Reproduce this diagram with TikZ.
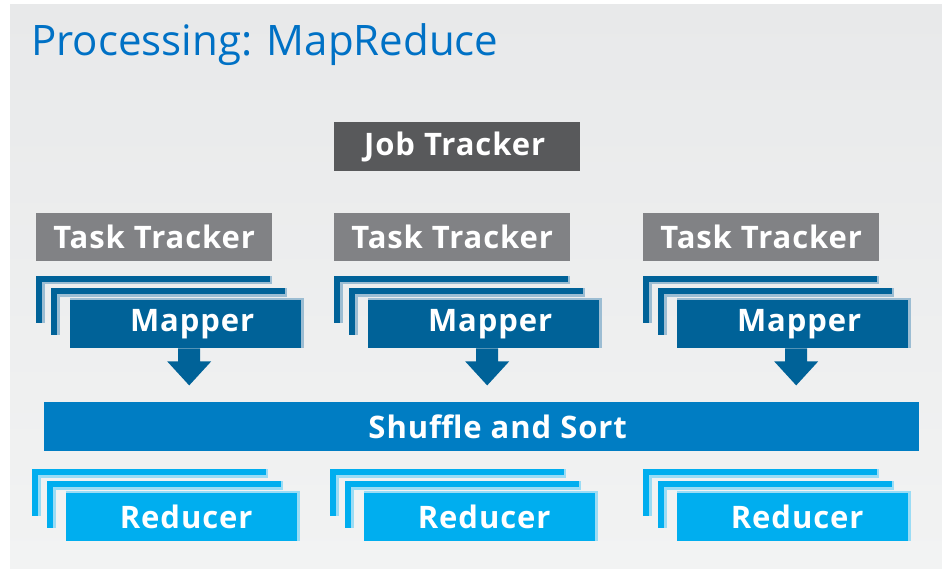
\documentclass[tikz,border=0pt]{standalone}
\usepackage{fontspec}
\setmainfont{Open Sans}
\definecolor{panelTop}{HTML}{E8E9EA}
\definecolor{panelBot}{HTML}{F2F3F3}
\definecolor{titleBlue}{HTML}{0071C5}
\definecolor{jobGray}{HTML}{58595B}
\definecolor{taskGray}{HTML}{818285}
\definecolor{mapBlue}{HTML}{006298}
\definecolor{mapLight}{HTML}{9CBDD3}
\definecolor{shufBlue}{HTML}{007DC3}
\definecolor{redBlue}{HTML}{00AEEF}
\definecolor{redLight}{HTML}{9ADCF5}

% an L-shaped edge of a card lying behind another one
\newcommand{\cardedge}[4]{%
  \fill[#4] (#1+6,#2+6) rectangle ++(229,2.5);
  \fill[#4] (#1+6,#2+6) rectangle ++(2.5,41);
  \fill[#4] (#1+234,#2) rectangle ++(2,8.5);
  \fill[#3] (#1,#2) rectangle ++(234,6);
  \fill[#3] (#1,#2) rectangle ++(6,47);
}

\tikzset{
  box/.style={rectangle, inner sep=0pt, anchor=north west, text=white,
    minimum width=235, minimum height=48,
    font=\fontsize{31}{31}\selectfont\bfseries\addfontfeature{LetterSpace=3}},
  jobbox/.style={box, fill=jobGray, minimum width=246, minimum height=49},
  taskbox/.style={box, fill=taskGray, minimum width=236},
  mapbox/.style={box, fill=mapBlue, minimum width=234},
  redbox/.style={box, fill=redBlue, minimum width=234},
  shufbox/.style={box, fill=shufBlue, minimum width=875, minimum height=49},
  blockarrow/.style={fill=mapBlue},
}

\begin{document}
\begin{tikzpicture}[x=1pt,y=-1pt]
\useasboundingbox (0,0) rectangle (942,569);
\fill[white] (0,0) rectangle (942,569);
\shade[top color=panelTop, bottom color=panelBot] (10,5) rectangle (942,569);

\node[anchor=base west, text=titleBlue, inner sep=0pt,
  font=\fontsize{42}{42}\selectfont] (title) at (31,56) {Processing: MapReduce};

\node[jobbox] (job) at (334,122) {Job Tracker\hspace*{5pt}};

\node[taskbox] (t1) at (36,213) {Task Tracker};
\node[taskbox] (t2) at (334,213) {Task Tracker};
\node[taskbox] (t3) at (643,213) {Task Tracker};

% mapper stacks
\foreach \x in {36,334,643}{
  \cardedge{\x}{276}{mapBlue}{mapLight}
  \cardedge{\x+15}{288}{mapBlue}{mapLight}
}
\node[mapbox] (m1) at (70,300) {\hspace*{10pt}Mapper};
\node[mapbox] (m2) at (368,300) {\hspace*{10pt}Mapper};
\node[mapbox] (m3) at (677,300) {\hspace*{10pt}Mapper};
\foreach \m in {m1,m2,m3}{
  \fill[mapLight] (\m.north west) rectangle ([yshift=2]\m.north east);
  \fill[mapLight] ([xshift=-3]\m.north east) rectangle (\m.south east);
}

\node[shufbox] (shuf) at (44,402) {\hspace*{32pt}Shuffle and Sort};

% block arrows from each mapper down to the shuffle bar
\foreach \m in {m1,m2,m3}{
  \fill[blockarrow] ([xshift=2]\m.south) ++(-11,0) -- ++(0,13) -- ++(-11,0)
    -- ++(22,24) -- ++(22,-24) -- ++(-11,0) -- ++(0,-13) -- cycle;
}

% reducer stacks
\foreach \x in {32,330,643}{
  \cardedge{\x}{469}{redBlue}{redLight}
  \cardedge{\x+15}{481}{redBlue}{redLight}
}
\node[redbox] (r1) at (66,493) {\hspace*{6pt}Reducer};
\node[redbox] (r2) at (364,493) {\hspace*{6pt}Reducer};
\node[redbox] (r3) at (677,493) {\hspace*{6pt}Reducer};
\foreach \r in {r1,r2,r3}{
  \fill[redLight] (\r.north west) rectangle ([yshift=2]\r.north east);
  \fill[redLight] ([xshift=-3]\r.north east) rectangle (\r.south east);
}
\end{tikzpicture}
\end{document}
